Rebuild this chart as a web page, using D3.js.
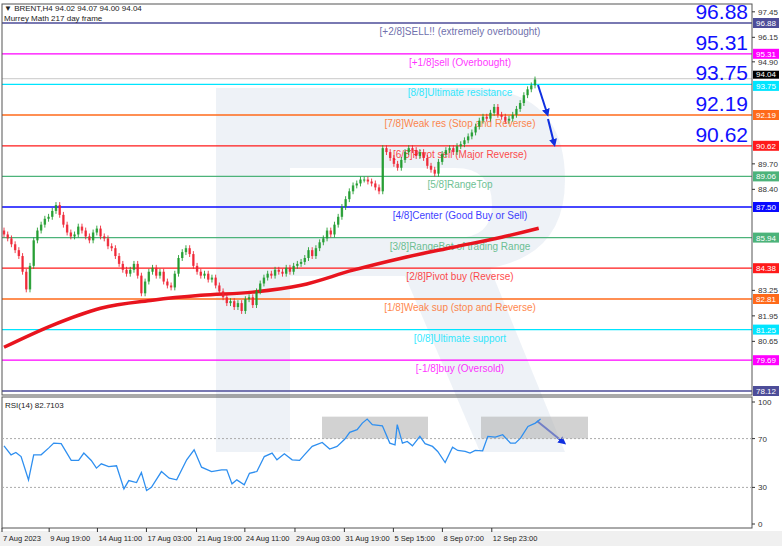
<!DOCTYPE html>
<html><head><meta charset="utf-8">
<script src="https://cdn.jsdelivr.net/npm/d3@7"></script>
<style>body{margin:0;background:#fff;}text{font-family:"Liberation Sans","DejaVu Sans",sans-serif;}</style>
</head><body><svg id="c" width="782" height="546"></svg>
<script>
const closes = [
  86.1,85.9,85.6,85.3,85.0,84.2,83.3,84.5,85.8,86.3,86.6,86.9,87.0,87.3,87.6,87.1,
  86.6,86.2,86.0,86.1,86.5,86.3,86.0,85.8,86.2,86.4,86.0,85.9,85.5,85.4,85.0,84.6,
  84.3,84.1,84.3,84.6,84.0,83.1,83.7,84.2,84.4,84.0,84.2,83.7,83.5,83.4,84.1,84.9,
  85.2,85.4,85.1,84.5,84.2,84.0,84.1,83.8,83.9,83.5,83.2,82.9,82.6,82.7,82.4,82.6,
  82.2,82.8,82.9,82.5,83.2,83.6,83.9,84.1,84.0,84.3,84.2,84.1,84.4,84.2,84.5,84.6,
  84.7,84.9,85.3,85.0,85.4,85.7,85.9,86.3,86.1,86.6,87.0,87.5,87.9,88.3,88.6,88.7,
  88.9,88.9,88.8,88.7,88.5,88.3,90.5,90.3,90.0,89.7,89.5,89.9,90.3,90.5,90.4,90.1,
  90.3,90.0,89.6,89.4,89.2,89.8,90.2,90.4,90.5,90.3,90.6,90.7,90.9,91.1,91.3,91.6,
  91.9,92.1,92.0,92.3,92.6,92.2,92.1,91.9,92.0,92.2,92.5,92.8,93.2,93.5,93.7,94.0
];
const firstOpen = 86.3;
const maBar = [0,13,26,40,53,67,80,94,107,121,134,144];
const maVal = [80.35,81.47,82.34,82.75,83.0,83.16,83.51,84.28,84.89,85.45,85.96,86.42];
const rsiBar = [0,1.9,3.2,4.6,6.6,8,10,12,13.4,15.4,18.1,20.1,21.5,23.5,24.9,26.2,28.2,30.3,32.3,33.6,35.7,37,38.4,39.7,42.4,44.5,46.5,49.2,51.2,53.2,55.9,58.6,60,61.4,62.7,64.7,66.1,68.1,70.1,72.2,73.5,75.5,77.6,79.6,80.9,83,85.7,87.7,89.7,91.8,93.1,95.1,96.5,97.8,99.2,101.9,103.9,105.3,105.9,107.3,108.6,110,112,113.4,115.4,116.8,118.8,120.8,122.2,124.2,125.5,126.9,128.9,130.3,132.3,134.3,136.4,137.7,139.1,141.1,143.1,144.5];
const rsiVal = [64.1,56.7,58.6,55.3,36.2,56.7,56.7,62.2,66.3,65.8,52.1,52.1,58.1,52.1,45.8,49.3,47.1,47.7,28.8,35.6,34.0,42.2,27.4,30.1,43.0,37.5,36.2,52.6,60.8,46.6,43.0,44.4,44.4,32.9,36.2,32.1,41.6,43.0,55.3,58.1,52.6,57.5,52.6,52.1,56.7,63.6,66.8,61.4,63.6,69.6,75.1,77.3,82.7,86.0,81.4,80.5,66.3,64.9,81.4,66.3,67.7,64.1,71.8,65.8,63.6,59.5,50.4,63.0,60.3,59.5,58.1,60.3,60.0,71.8,71.2,73.2,66.3,66.3,70.4,80.0,82.7,86.0];
const levels = [96.88,95.31,93.75,92.19,90.62,89.06,87.50,85.94,84.38,82.81,81.25,79.69,78.12];
const levelColors = ["#4d4d99","#ff00ff","#00e5ff","#ff6a1a","#ff1a1a","#4cb37a","#0a0aff","#4cb37a","#ff1a1a","#ff6a1a","#00e5ff","#ff00ff","#4d4d99"];
const levelLabels = ["[+2/8]SELL!! (extremely overbought)","[+1/8]sell (Overbought)","[8/8]Ultimate resistance","[7/8]Weak res (Stop and Reverse)","[6/8]Pivot sell (Major Reverse)","[5/8]RangeTop","[4/8]Center (Good Buy or Sell)","[3/8]RangeBot of trading Range","[2/8]Pivot buy (Reverse)","[1/8]Weak sup (stop and Reverse)","[0/8]Ultimate support","[-1/8]buy (Oversold)","[-2/8]BUY!! (extremely oversold)"];
const bigLevels = ["96.88","95.31","93.75","92.19","90.62"];
const priceTicks = [97.45,96.15,94.90,93.60,91.00,89.70,88.40,87.15,85.85,84.55,83.25,81.95,80.65,79.40];
const timeBar = [0,12.7,25.7,38.9,52.4,65.4,78.9,92.2,105.4,118.6,131.9];
const timeLabels = ["7 Aug 2023","9 Aug 19:00","14 Aug 11:00","17 Aug 03:00","21 Aug 19:00","24 Aug 11:00","29 Aug 03:00","31 Aug 19:00","5 Sep 15:00","8 Sep 07:00","12 Sep 23:00"];
const rsiTicks = [100,70,30,0];
const lastPrice = 94.04;

const svg = d3.select("#c");
const x = d3.scaleLinear().domain([0,143]).range([4,535]);
const y = d3.scaleLinear().domain([78.12,96.88]).range([391,23]);
const ry = d3.scaleLinear().domain([0,100]).range([524,402]);

const defs = svg.append("defs");
defs.append("clipPath").attr("id","mc").append("rect").attr("x",2).attr("y",4).attr("width",750).attr("height",391);
defs.append("marker").attr("id","ah").attr("viewBox","0 0 10 10").attr("refX",5).attr("refY",5)
  .attr("markerWidth",4).attr("markerHeight",4).attr("orient","auto")
  .append("path").attr("d","M0,0 L10,5 L0,10 Z").attr("fill","#1030e0");

// watermark
svg.append("path")
  .attr("d","M216,88 L470,88 Q565,88 565,180 Q565,255 490,268 L565,452 L480,452 L405,276 L290,276 L290,452 L216,452 Z M290,168 L455,168 Q492,168 492,205 Q492,238 455,238 L290,238 Z")
  .attr("fill","#e3e9f2").attr("fill-rule","evenodd").attr("opacity",0.6);

const main = svg.append("g").attr("clip-path","url(#mc)");
svg.append("rect").attr("x",2).attr("y",4).attr("width",750).attr("height",391).attr("fill","none").attr("stroke","#555");

main.append("line").attr("x1",2).attr("x2",752).attr("y1",y(lastPrice)).attr("y2",y(lastPrice)).attr("stroke","#c8c8c8");

levels.forEach((l,i)=>{
  main.append("line").attr("x1",2).attr("x2",752).attr("y1",y(l)).attr("y2",y(l))
    .attr("stroke",levelColors[i]).attr("stroke-width",1.3);
  main.append("text").attr("x",460).attr("y",y(l)+12).attr("text-anchor","middle")
    .attr("font-size",10).attr("fill",levelColors[i]).attr("opacity",0.8).text(levelLabels[i]);
});
bigLevels.forEach((t,i)=>{
  main.append("text").attr("x",748).attr("y",y(levels[i])-4).attr("text-anchor","end")
    .attr("font-size",21).attr("fill","#1010ff").text(t);
});

main.append("path").datum(maBar.map((b,i)=>[b,maVal[i]]))
  .attr("d",d3.line().x(d=>x(d[0])).y(d=>y(d[1])).curve(d3.curveMonotoneX))
  .attr("fill","none").attr("stroke","#e8141e").attr("stroke-width",3.5);

const bw = 2.4;
closes.forEach((c,i)=>{
  const o = i===0?firstOpen:closes[i-1];
  const up = c>=o;
  const col = up?"#1c9a2a":"#ee2030";
  const hi = Math.max(o,c)+0.15, lo = Math.min(o,c)-0.15;
  const cx = x(i);
  main.append("line").attr("x1",cx).attr("x2",cx).attr("y1",y(hi)).attr("y2",y(lo)).attr("stroke",col).attr("opacity",0.85);
  main.append("rect").attr("x",cx-bw/2).attr("width",bw)
    .attr("y",y(Math.max(o,c))).attr("height",Math.max(1,Math.abs(y(o)-y(c)))).attr("fill",col).attr("opacity",0.85);
});

[[538,85,547,113],[548,119,554,143],[537,421,563,442]].forEach(a=>{
  svg.append("line").attr("x1",a[0]).attr("y1",a[1]).attr("x2",a[2]).attr("y2",a[3])
    .attr("stroke","#1030e0").attr("stroke-width",2).attr("marker-end","url(#ah)");
});

// right axis
const ax = svg.append("g").attr("font-size",8).attr("fill","#333");
const boxY = levels.map(y).concat([y(lastPrice)]);
priceTicks.filter(p=>boxY.every(b=>Math.abs(b-y(p))>7.5)).forEach(p=>{
  ax.append("line").attr("x1",752).attr("x2",755).attr("y1",y(p)).attr("y2",y(p)).attr("stroke","#333");
  ax.append("text").attr("x",758).attr("y",y(p)+3).text(p.toFixed(2));
});
levels.forEach((l,i)=>{
  const off = l===93.75 ? 1.5 : 0;
  ax.append("rect").attr("x",753).attr("y",y(l)-5+off).attr("width",26).attr("height",10).attr("fill",levelColors[i]);
  ax.append("text").attr("x",756).attr("y",y(l)+3+off).attr("fill","#fff").text(l.toFixed(2));
});
ax.append("rect").attr("x",753).attr("y",y(lastPrice)-8).attr("width",26).attr("height",8).attr("fill","#000");
ax.append("text").attr("x",756).attr("y",y(lastPrice)-1.5).attr("fill","#fff").text(lastPrice.toFixed(2));

svg.append("text").attr("x",4).attr("y",11).attr("font-size",8).attr("fill","#222").text("▼ BRENT,H4  94.02 94.07 94.00 94.04");
svg.append("text").attr("x",4).attr("y",21).attr("font-size",8).attr("fill","#222").text("Murrey Math 217 day frame");

// RSI panel
const rp = svg.append("g");
rp.append("rect").attr("x",2).attr("y",397).attr("width",750).attr("height",131).attr("fill","none").attr("stroke","#555");
[[322,428],[481,588]].forEach(b=>{
  rp.append("rect").attr("x",b[0]).attr("y",ry(88)).attr("width",b[1]-b[0]).attr("height",ry(70)-ry(88)).attr("fill","#b4b4b4").attr("opacity",0.6);
});
[70,30].forEach(v=>rp.append("line").attr("x1",2).attr("x2",752).attr("y1",ry(v)).attr("y2",ry(v))
  .attr("stroke","#aaa").attr("stroke-dasharray","2,2"));
rp.append("path").datum(rsiBar.map((b,i)=>[b,rsiVal[i]]))
  .attr("d",d3.line().x(d=>x(d[0])).y(d=>ry(d[1])))
  .attr("fill","none").attr("stroke","#2e8ff0").attr("stroke-width",1.3);
rp.append("text").attr("x",5).attr("y",408).attr("font-size",8).attr("fill","#222").text("RSI(14) 82.7103");
rsiTicks.forEach(v=>{
  rp.append("line").attr("x1",752).attr("x2",755).attr("y1",ry(v)).attr("y2",ry(v)).attr("stroke","#333");
  rp.append("text").attr("x",758).attr("y",ry(v)+3).attr("font-size",8).attr("fill","#333").text(v);
});

// time axis
svg.append("rect").attr("x",0).attr("y",531).attr("width",782).attr("height",15).attr("fill","#f0f0f0");
timeBar.forEach((b,i)=>{
  const tx = x(b)-2;
  svg.append("line").attr("x1",tx).attr("x2",tx).attr("y1",528).attr("y2",532).attr("stroke","#333");
  svg.append("text").attr("x",tx+1).attr("y",541).attr("font-size",7.5).attr("fill","#222").text(timeLabels[i]);
});
</script></body></html>
